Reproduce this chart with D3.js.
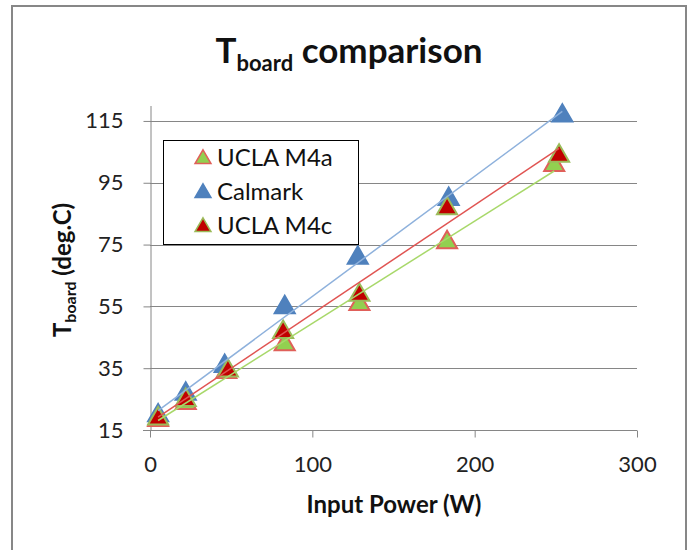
<!DOCTYPE html>
<html>
<head>
<meta charset="utf-8">
<script src="https://cdn.jsdelivr.net/npm/d3@7"></script>
<style>
  html, body { margin: 0; padding: 0; background: #fff; }
  svg { display: block; font-family: Lato, "Open Sans", sans-serif; }
</style>
</head>
<body>
<svg id="chart" width="692" height="550"></svg>
<script>
// ---- data ----
const seriesNames = ["UCLA M4a", "Calmark", "UCLA M4c"];
const m4aPower = [5, 22, 47, 83, 129, 183, 249];
const m4aTemp  = [18.5, 24, 34, 43, 56, 76, 101];
const calPower = [5, 22, 46, 83, 128, 184, 254];
const calTemp  = [20, 27, 36, 55, 71, 90, 117];
const m4cPower = [5, 22, 48, 82, 129, 183, 252];
const m4cTemp  = [19, 25, 34.5, 47, 59, 87, 104];
const xTicks = [0, 100, 200, 300];
const yTicks = [15, 35, 55, 75, 95, 115];

const styles = [
  { fill: "#92D050", stroke: "#E0605A", line: "#A8D86A" },
  { fill: "#4F81BD", stroke: "#4F81BD", line: "#8EB1DC" },
  { fill: "#C00000", stroke: "#9BBB59", line: "#E05452" }
];
const series = [
  { name: seriesNames[0], x: m4aPower, y: m4aTemp },
  { name: seriesNames[1], x: calPower, y: calTemp },
  { name: seriesNames[2], x: m4cPower, y: m4cTemp }
];

const svg = d3.select("#chart");
svg.append("rect").attr("width", 692).attr("height", 550).attr("fill", "#fff");
svg.append("rect").attr("x", 12).attr("y", 6).attr("width", 674).attr("height", 560)
  .attr("fill", "#fff").attr("stroke", "#878787").attr("stroke-width", 2);

const x = d3.scaleLinear().domain([0, 300]).range([150, 637]);
const y = d3.scaleLinear().domain([15, 120]).range([430, 105.5]);

const gridColor = "#868686";
// gridlines
svg.append("g").selectAll("line").data(yTicks.filter(d => d !== 15)).join("line")
  .attr("x1", x(0)).attr("x2", x(300))
  .attr("y1", d => Math.round(y(d)) + 0.5).attr("y2", d => Math.round(y(d)) + 0.5)
  .attr("stroke", gridColor).attr("stroke-width", 1);

// y axis
const yAxis = svg.append("g").attr("transform", `translate(${x(0) + 0.5},0)`)
  .call(d3.axisLeft(y).tickValues(yTicks).tickSize(7).tickPadding(20).tickSizeOuter(0));
yAxis.select(".domain").attr("stroke", gridColor);
yAxis.selectAll(".tick line").attr("stroke", gridColor);
yAxis.selectAll(".tick text").attr("font-family", "Lato").attr("font-size", 22).attr("fill", "#222");

// x axis
const xAxis = svg.append("g").attr("transform", `translate(0,${Math.round(y(15)) + 0.5})`)
  .call(d3.axisBottom(x).tickValues(xTicks).tickSize(7).tickPadding(19).tickSizeOuter(0));
xAxis.select(".domain").attr("stroke", gridColor).attr("d", `M${x(0) - 7},0H${x(300)}`);
xAxis.selectAll(".tick line").attr("stroke", gridColor);
xAxis.selectAll(".tick text").attr("font-family", "Lato").attr("font-size", 22).attr("fill", "#222");

// markers
const tri = d3.symbol().type(d3.symbolTriangle).size(175)();
const triSmall = d3.symbol().type(d3.symbolTriangle).size(110)();
series.forEach((s, i) => {
  svg.append("g").selectAll("path").data(s.x.map((v, j) => [v, s.y[j]])).join("path")
    .attr("d", tri)
    .attr("transform", d => `translate(${x(d[0])},${y(d[1]) + 1})`)
    .attr("fill", styles[i].fill).attr("stroke", styles[i].stroke).attr("stroke-width", 2);
});

// linear trendlines
series.forEach((s, i) => {
  const n = s.x.length;
  const mx = d3.mean(s.x), my = d3.mean(s.y);
  let sxy = 0, sxx = 0;
  for (let j = 0; j < n; j++) { sxy += (s.x[j] - mx) * (s.y[j] - my); sxx += (s.x[j] - mx) ** 2; }
  const b = sxy / sxx, a = my - b * mx;
  const x0 = d3.min(s.x), x1 = d3.max(s.x);
  svg.append("line")
    .attr("x1", x(x0)).attr("y1", y(a + b * x0))
    .attr("x2", x(x1)).attr("y2", y(a + b * x1))
    .attr("stroke", styles[i].line).attr("stroke-width", 1.5);
});

// legend
const lg = svg.append("g");
lg.append("rect").attr("x", 163.5).attr("y", 140.5).attr("width", 195).attr("height", 104)
  .attr("fill", "#fff").attr("stroke", "#000").attr("stroke-width", 1);
series.forEach((s, i) => {
  const cy = 158 + i * 34;
  lg.append("path").attr("d", triSmall).attr("transform", `translate(203,${cy + 1})`)
    .attr("fill", styles[i].fill).attr("stroke", styles[i].stroke).attr("stroke-width", 1.5);
  lg.append("text").attr("x", 217).attr("y", cy).attr("dy", "0.35em")
    .attr("font-size", 24).attr("fill", "#111").text(s.name);
});

// title
const title = svg.append("text").attr("x", 349).attr("y", 63).attr("text-anchor", "middle")
  .attr("font-weight", "bold").attr("fill", "#111");
title.append("tspan").attr("font-size", 35).text("T");
title.append("tspan").attr("font-size", 22).attr("dy", 8).text("board");
title.append("tspan").attr("font-size", 35).attr("dy", -8).text(" comparison");

// x axis title
svg.append("text").attr("x", 394).attr("y", 513).attr("text-anchor", "middle")
  .attr("font-weight", "bold").attr("font-size", 24).attr("fill", "#111").text("Input Power (W)");

// y axis title
const yt = svg.append("text").attr("transform", "translate(71,270) rotate(-90)")
  .attr("text-anchor", "middle").attr("font-weight", "bold").attr("fill", "#111");
yt.append("tspan").attr("font-size", 24).text("T");
yt.append("tspan").attr("font-size", 16).attr("dy", 5).text("board");
yt.append("tspan").attr("font-size", 24).attr("dy", -5).text(" (deg.C)");
</script>
</body>
</html>
